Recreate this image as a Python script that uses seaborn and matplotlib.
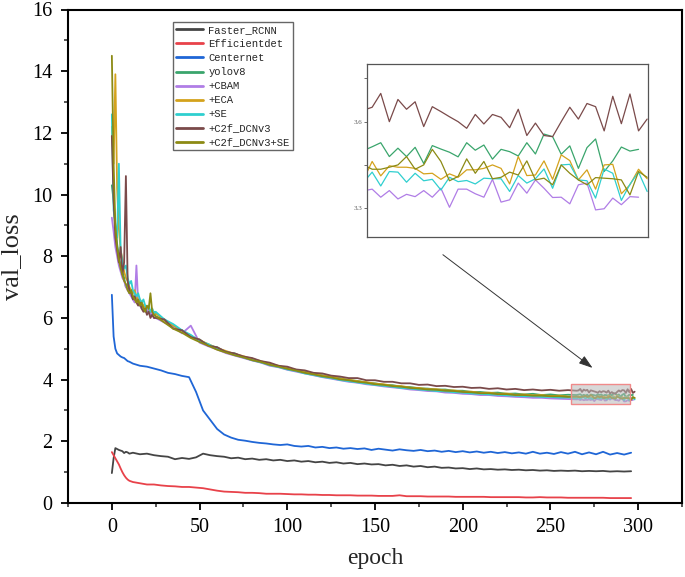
import matplotlib
matplotlib.use("Agg")
import matplotlib.pyplot as plt
import seaborn as sns
import numpy as np
import pandas as pd
from matplotlib.ticker import MultipleLocator
from matplotlib.patches import Rectangle
from matplotlib.font_manager import FontProperties

# ---------------- data ----------------
# epochs for the three baseline detectors
epochs_base = list(range(0, 11)) + list(range(12, 297, 4))
# epochs for the yolov8-family curves
epochs_yolo = list(range(0, 25)) + list(range(25, 266, 5)) + list(range(266, 299))

faster_rcnn = [0.97, 1.45, 1.78, 1.75, 1.72, 1.70, 1.68, 1.62, 1.66, 1.64, 1.60,
               1.63, 1.58, 1.60, 1.55, 1.52, 1.50, 1.42, 1.46, 1.43, 1.48, 1.60, 1.55,
               1.52, 1.50, 1.45, 1.47, 1.42, 1.44, 1.40, 1.42, 1.38, 1.40, 1.36, 1.38,
               1.34, 1.36, 1.32, 1.34, 1.30, 1.32, 1.28, 1.30, 1.26, 1.28, 1.25, 1.26,
               1.22, 1.24, 1.20, 1.22, 1.18, 1.20, 1.16, 1.18, 1.14, 1.15, 1.12, 1.13,
               1.10, 1.12, 1.09, 1.10, 1.08, 1.09, 1.07, 1.08, 1.06, 1.07, 1.05, 1.06,
               1.04, 1.05, 1.04, 1.05, 1.03, 1.04, 1.03, 1.04, 1.02, 1.03, 1.02, 1.03]

efficientdet = [1.65, 1.55, 1.45, 1.35, 1.25, 1.12, 1.00, 0.90, 0.82, 0.76, 0.72,
                0.68, 0.64, 0.60, 0.60, 0.57, 0.55, 0.54, 0.52, 0.52, 0.50, 0.48, 0.44,
                0.40, 0.37, 0.36, 0.35, 0.33, 0.33, 0.32, 0.30, 0.30, 0.30, 0.29, 0.28,
                0.28, 0.27, 0.27, 0.26, 0.26, 0.25, 0.25, 0.25, 0.24, 0.24, 0.24, 0.23,
                0.23, 0.23, 0.25, 0.22, 0.22, 0.22, 0.21, 0.21, 0.21, 0.21, 0.20, 0.20,
                0.20, 0.20, 0.20, 0.19, 0.19, 0.19, 0.19, 0.19, 0.18, 0.18, 0.19, 0.18,
                0.18, 0.18, 0.17, 0.17, 0.17, 0.17, 0.17, 0.17, 0.16, 0.16, 0.16, 0.16]

centernet = [6.75, 5.40, 5.00, 4.85, 4.80, 4.75, 4.72, 4.70, 4.65, 4.60, 4.58,
             4.52, 4.45, 4.42, 4.36, 4.30, 4.22, 4.18, 4.12, 4.08, 3.60, 3.00, 2.70,
             2.40, 2.22, 2.12, 2.05, 2.02, 1.98, 1.95, 1.93, 1.90, 1.88, 1.90, 1.85,
             1.83, 1.85, 1.80, 1.82, 1.78, 1.80, 1.76, 1.78, 1.75, 1.77, 1.72, 1.76,
             1.73, 1.70, 1.74, 1.71, 1.69, 1.72, 1.68, 1.70, 1.66, 1.69, 1.65, 1.68,
             1.64, 1.67, 1.63, 1.66, 1.62, 1.65, 1.61, 1.64, 1.60, 1.66, 1.60, 1.63,
             1.59, 1.65, 1.60, 1.66, 1.58, 1.64, 1.58, 1.66, 1.57, 1.62, 1.57, 1.63]

yolov8 = [10.3, 9.8, 9.0, 8.4, 8.0, 7.7, 7.5, 7.3, 7.0, 7.1, 6.8, 6.9, 6.7, 6.6, 6.7,
          6.5, 6.4, 6.5, 6.3, 6.35, 6.2, 6.3, 6.15, 6.1, 6.2,
          6.05, 5.95, 5.68, 5.6, 5.38, 5.3, 5.1, 5.05, 4.88, 4.85, 4.72, 4.68, 4.56,
          4.52, 4.42, 4.38, 4.28, 4.26, 4.17, 4.14, 4.07, 4.05, 3.98, 3.96, 3.9, 3.88,
          3.83, 3.82, 3.77, 3.76, 3.72, 3.71, 3.68, 3.68, 3.64, 3.64, 3.6, 3.6, 3.57,
          3.58, 3.54, 3.55, 3.52, 3.54, 3.5, 3.52, 3.49, 3.51, 3.5,
          3.513, 3.527, 3.479, 3.508, 3.479, 3.511, 3.455, 3.517, 3.505, 3.494, 3.478,
          3.527, 3.501, 3.519, 3.470, 3.504, 3.496, 3.481, 3.527, 3.488, 3.557, 3.548,
          3.487, 3.516, 3.438, 3.510, 3.540, 3.427, 3.464, 3.512, 3.498, 3.504]

cbam = [9.25, 8.8, 8.3, 8.0, 7.7, 7.5, 7.3, 7.2, 7.0, 6.9, 6.8, 6.7, 6.6, 6.5, 7.7,
        6.5, 6.4, 6.3, 6.4, 6.2, 6.3, 6.2, 6.1, 6.2, 6.0,
        6.0, 5.85, 5.72, 5.5, 5.75, 5.2, 5.08, 4.98, 4.86, 4.78, 4.7, 4.62, 4.55, 4.45,
        4.4, 4.32, 4.26, 4.2, 4.14, 4.08, 4.03, 3.98, 3.93, 3.9, 3.85, 3.82, 3.78, 3.75,
        3.72, 3.68, 3.66, 3.63, 3.62, 3.58, 3.57, 3.54, 3.53, 3.5, 3.5, 3.47, 3.46,
        3.44, 3.43, 3.41, 3.41, 3.39, 3.38, 3.37, 3.36,
        3.366, 3.338, 3.361, 3.332, 3.348, 3.340, 3.361, 3.338, 3.369, 3.303, 3.366,
        3.366, 3.350, 3.338, 3.400, 3.321, 3.329, 3.387, 3.352, 3.398, 3.369, 3.337,
        3.338, 3.315, 3.381, 3.387, 3.294, 3.298, 3.335, 3.312, 3.340, 3.338]

eca = [12.2, 11.0, 13.9, 10.2, 8.9, 8.2, 7.9, 7.5, 7.3, 7.2, 7.0, 6.9, 6.8, 6.9, 6.7,
       6.5, 6.6, 6.5, 6.4, 6.3, 6.35, 6.3, 6.2, 6.3, 6.1,
       6.15, 5.92, 5.75, 5.58, 5.42, 5.28, 5.15, 5.02, 4.93, 4.83, 4.76, 4.67, 4.6,
       4.51, 4.45, 4.37, 4.32, 4.24, 4.2, 4.13, 4.1, 4.03, 4.0, 3.95, 3.92, 3.87, 3.85,
       3.8, 3.79, 3.74, 3.73, 3.69, 3.69, 3.65, 3.65, 3.61, 3.61, 3.57, 3.58, 3.54,
       3.55, 3.51, 3.52, 3.49, 3.5, 3.47, 3.48, 3.45, 3.40,
       3.462, 3.412, 3.447, 3.442, 3.442, 3.438, 3.419, 3.421, 3.400, 3.419, 3.407,
       3.433, 3.433, 3.438, 3.450, 3.438, 3.384, 3.479, 3.413, 3.415, 3.464, 3.400,
       3.485, 3.465, 3.398, 3.433, 3.366, 3.450, 3.452, 3.350, 3.381, 3.435, 3.402]

se = [12.6, 9.5, 9.0, 8.6, 11.0, 8.2, 7.8, 7.6, 7.7, 7.3, 7.1, 7.2, 6.9, 6.8, 6.7,
      6.8, 6.6, 6.5, 6.6, 6.4, 6.3, 6.4, 6.2, 6.3, 6.15,
      6.2, 5.95, 5.8, 5.6, 5.45, 5.25, 5.15, 5.0, 4.9, 4.8, 4.72, 4.63, 4.56, 4.47,
      4.41, 4.33, 4.28, 4.2, 4.15, 4.09, 4.05, 3.99, 3.95, 3.91, 3.87, 3.83, 3.8, 3.77,
      3.73, 3.71, 3.68, 3.66, 3.63, 3.62, 3.59, 3.58, 3.55, 3.54, 3.52, 3.51, 3.49,
      3.48, 3.46, 3.46, 3.44, 3.44, 3.42, 3.42, 3.39,
      3.425, 3.377, 3.427, 3.425, 3.390, 3.421, 3.395, 3.400, 3.363, 3.407, 3.392,
      3.396, 3.384, 3.404, 3.402, 3.402, 3.358, 3.413, 3.387, 3.402, 3.436, 3.369,
      3.450, 3.452, 3.398, 3.395, 3.335, 3.436, 3.421, 3.327, 3.383, 3.425, 3.358]

c2f_dcnv3 = [11.9, 9.8, 8.6, 8.2, 7.8, 8.3, 7.4, 7.8, 10.6, 7.2, 6.9, 6.8, 6.6, 6.7,
             6.5, 6.4, 6.5, 6.3, 6.2, 6.3, 6.1, 6.2, 6.0, 6.1, 6.0,
             6.0, 5.95, 5.65, 5.6, 5.38, 5.3, 5.1, 5.05, 4.9, 4.85, 4.75, 4.7, 4.6, 4.55,
             4.45, 4.42, 4.33, 4.3, 4.22, 4.2, 4.13, 4.1, 4.05, 4.05, 3.98, 3.98, 3.93,
             3.93, 3.88, 3.88, 3.83, 3.84, 3.79, 3.8, 3.76, 3.77, 3.73, 3.74, 3.7, 3.72,
             3.68, 3.7, 3.66, 3.68, 3.65, 3.67, 3.64, 3.66, 3.64,
             3.650, 3.698, 3.600, 3.677, 3.643, 3.669, 3.583, 3.652, 3.635, 3.617, 3.600,
             3.577, 3.625, 3.592, 3.625, 3.615, 3.579, 3.643, 3.552, 3.595, 3.552, 3.548,
             3.600, 3.650, 3.609, 3.663, 3.652, 3.568, 3.688, 3.593, 3.696, 3.568, 3.609]

c2f_dcnv3_se = [14.5, 11.0, 9.0, 8.3, 7.9, 7.6, 7.4, 7.2, 7.1, 6.9, 6.8, 6.9, 6.7, 6.6,
                6.5, 6.6, 6.4, 6.5, 6.3, 6.2, 6.4, 6.3, 6.8, 6.2, 6.1,
                6.05, 5.85, 5.65, 5.52, 5.35, 5.22, 5.1, 4.97, 4.88, 4.79, 4.72, 4.63,
                4.57, 4.48, 4.42, 4.35, 4.29, 4.22, 4.17, 4.11, 4.07, 4.01, 3.98, 3.93,
                3.9, 3.85, 3.83, 3.79, 3.77, 3.73, 3.71, 3.68, 3.67, 3.64, 3.63, 3.6, 3.59,
                3.56, 3.56, 3.53, 3.53, 3.5, 3.5, 3.48, 3.48, 3.46, 3.46, 3.44, 3.45,
                3.435, 3.435, 3.442, 3.450, 3.479, 3.435, 3.450, 3.504, 3.462, 3.395,
                3.410, 3.471, 3.421, 3.462, 3.402, 3.407, 3.425, 3.415, 3.464, 3.398,
                3.404, 3.381, 3.450, 3.421, 3.398, 3.381, 3.406, 3.404, 3.402, 3.398,
                3.346, 3.427, 3.407]

labels = ["Faster_RCNN", "Efficientdet", "Centernet", "yolov8", "+CBAM", "+ECA",
          "+SE", "+C2f_DCNv3", "+C2f_DCNv3+SE"]
colors = ["#454545", "#e8424a", "#1f66d6", "#3aa56c", "#b07de6", "#d4a21c",
          "#2fcfcf", "#7a4a4a", "#8c8a14"]

series = [(epochs_base, faster_rcnn), (epochs_base, efficientdet), (epochs_base, centernet),
          (epochs_yolo, yolov8), (epochs_yolo, cbam), (epochs_yolo, eca), (epochs_yolo, se),
          (epochs_yolo, c2f_dcnv3), (epochs_yolo, c2f_dcnv3_se)]

# ---------------- style ----------------
sns.set_theme(style="ticks")
plt.rcParams["font.family"] = ["Liberation Serif", "DejaVu Serif"]
plt.rcParams["axes.facecolor"] = "white"

W, H = 685, 577
fig = plt.figure(figsize=(W / 100, H / 100), dpi=100)
ax = fig.add_axes([68 / W, 1 - 503 / H, (682 - 68) / W, (503 - 9.5) / H])

handles = []
for (xs, ys), lab, col in zip(series, labels, colors):
    n = min(len(xs), len(ys))
    df = pd.DataFrame({"epoch": xs[:n], "val_loss": ys[:n]})
    sns.lineplot(data=df, x="epoch", y="val_loss", ax=ax, color=col, lw=1.3,
                 estimator=None, sort=False, label=lab, legend=False)
    handles.append(ax.lines[-1])

ax.set_xlim(-25, 325)
ax.set_ylim(0, 16)
ax.xaxis.set_major_locator(MultipleLocator(50))
ax.xaxis.set_minor_locator(MultipleLocator(25))
ax.yaxis.set_major_locator(MultipleLocator(2))
ax.yaxis.set_minor_locator(MultipleLocator(1))
ax.tick_params(which="major", length=5, width=1.3, direction="out", labelsize=14.5,
               colors="black", pad=6)
ax.tick_params(which="minor", length=3, width=1.1, direction="out")
for s in ax.spines.values():
    s.set_visible(True)
    s.set_linewidth(1.5)
    s.set_color("black")
ax.set_xlabel("epoch", fontsize=17, labelpad=8)
ax.set_ylabel("val_loss", fontsize=19, labelpad=7)

# zoom rectangle and arrow
ax.add_patch(Rectangle((262, 3.2), 33.5, 0.65, facecolor=(0.72, 0.72, 0.72, 0.55),
                       edgecolor="#f08a8a", lw=1.0, zorder=5))
ax.annotate("", xy=(274, 4.38), xytext=(188.7, 8.05),
            arrowprops=dict(arrowstyle="-|>,head_length=0.6,head_width=0.2",
                            color="#333333", lw=0.7, mutation_scale=14,
                            shrinkA=0, shrinkB=0))

leg = ax.legend(handles, labels, loc="upper left",
                bbox_to_anchor=(173 / W, 1 - 22 / H), bbox_transform=fig.transFigure,
                prop=FontProperties(family="Liberation Mono", size=7.6),
                frameon=True, fancybox=False, edgecolor="#666666", framealpha=1,
                handlelength=2.5, handletextpad=0.55, borderpad=0.3,
                labelspacing=0.38, borderaxespad=0)
leg.get_frame().set_linewidth(1.0)
for l in leg.get_lines():
    l.set_linewidth(2.0)

# ---------------- inset ----------------
axin = fig.add_axes([367 / W, 1 - 237 / H, (648 - 367) / W, (237 - 64) / H])
for (xs, ys), lab, col in list(zip(series, labels, colors))[3:]:
    n = min(len(xs), len(ys))
    df = pd.DataFrame({"epoch": xs[:n], "val_loss": ys[:n]})
    sns.lineplot(data=df, x="epoch", y="val_loss", ax=axin, color=col, lw=0.9,
                 estimator=None, sort=False, legend=False)
axin.set_xlim(265.4, 298.1)
axin.set_ylim(3.2, 3.8)
axin.set_xticks([])
axin.yaxis.set_major_locator(MultipleLocator(0.3))
axin.yaxis.set_minor_locator(MultipleLocator(0.15))
axin.tick_params(axis="y", which="major", length=2, width=0.6, labelsize=5,
                 colors="#555555", pad=1.5)
axin.tick_params(axis="y", which="minor", length=2, width=0.6, colors="#555555")
axin.set_xlabel("")
axin.set_ylabel("")
for s in axin.spines.values():
    s.set_visible(True)
    s.set_linewidth(0.9)
    s.set_color("#555555")

fig.savefig("out.png", dpi=100)
